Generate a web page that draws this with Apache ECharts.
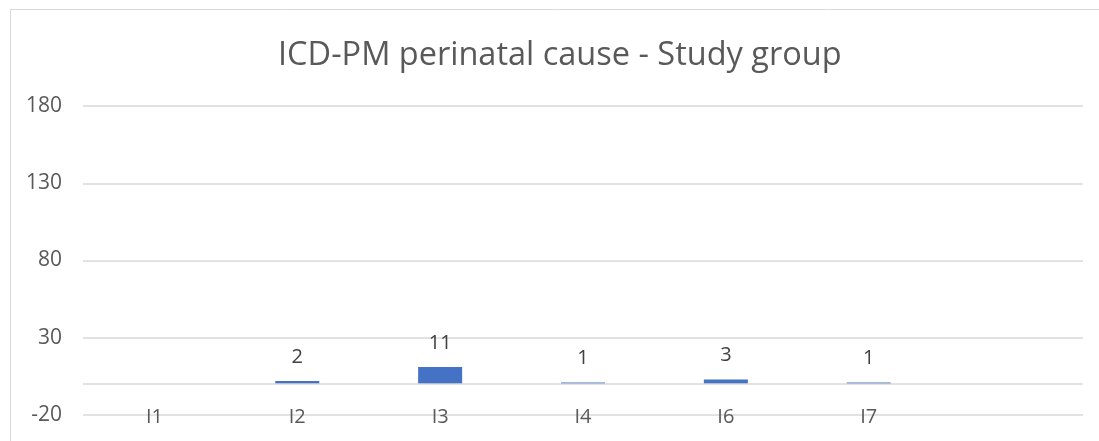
<!DOCTYPE html>
<html>
<head>
<meta charset="utf-8">
<script src="https://cdn.jsdelivr.net/npm/echarts@6/dist/echarts.min.js"></script>
<style>html,body{margin:0;padding:0;background:#fff;}#c{width:1099px;height:441px;}</style>
</head>
<body>
<div id="c"></div>
<script>
const titleText = 'ICD-PM perinatal cause - Study group';
const categories = ['I1', 'I2', 'I3', 'I4', 'I6', 'I7', ''];
const values = [null, 2, 11, 1, 3, 1, null];
const yTicks = { min: -20, max: 180, interval: 50 };

const chart = echarts.init(document.getElementById('c'), null, { renderer: 'canvas' });
const font = 'Open Sans';
chart.setOption({
  animation: false,
  backgroundColor: '#ffffff',
  graphic: [{
    type: 'rect', left: 8, top: 7, shape: { width: 1100, height: 440 },
    style: { fill: 'none', stroke: '#d9d9d9', lineWidth: 1 }, silent: true, z: -1
  }],
  title: {
    text: titleText, left: 273, top: 34,
    textStyle: { fontFamily: font, fontSize: 32.5, fontWeight: 'normal', color: '#595959' }
  },
  grid: { left: 83, right: 16, top: 106, bottom: 26, containLabel: false },
  xAxis: {
    type: 'category', data: categories,
    axisLine: { show: false, onZero: false },
    axisTick: { show: false },
    axisLabel: { fontFamily: font, fontSize: 20, color: '#595959', margin: -8, interval: 0 },
    splitLine: { show: false }
  },
  yAxis: {
    type: 'value', min: yTicks.min, max: yTicks.max, interval: yTicks.interval,
    axisLine: { show: false }, axisTick: { show: false },
    axisLabel: { fontFamily: font, fontSize: 21, color: '#595959', margin: 21 },
    splitLine: { lineStyle: { color: '#d9d9d9', width: 1.5 } }
  },
  series: [{
    type: 'bar', data: values, barWidth: 44,
    itemStyle: { color: '#4472C4' },
    label: { show: true, position: 'top', distance: 14, fontFamily: font, fontSize: 20, color: '#404040' },
    markLine: {
      silent: true, symbol: 'none', label: { show: false },
      lineStyle: { color: '#d9d9d9', type: 'solid', width: 1.5 },
      data: [{ yAxis: 0 }]
    }
  }]
});
</script>
</body>
</html>
